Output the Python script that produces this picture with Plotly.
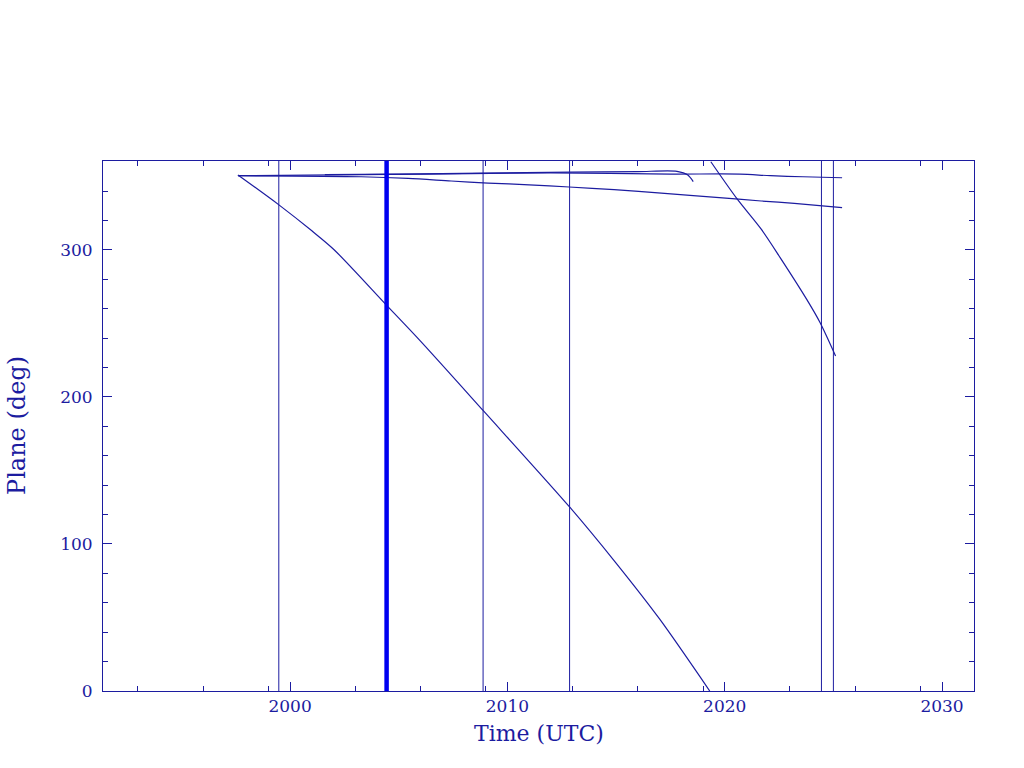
import plotly.graph_objects as go

# ---- data (decimal years, degrees) ----
event_years = [1999.48, 2008.88, 2012.86, 2024.45, 2025.00]
arrival_year = [2004.44]

# long descending track (wraps at 0 -> 360)
track_a_t = [1997.6, 1999.5, 2001.0, 2002.0, 2004.4, 2006.0, 2008.9, 2012.9, 2015.0, 2017.0, 2019.31]
track_a_p = [351.0, 330.5, 313.0, 300.5, 263.0, 238.0, 190.5, 124.5, 87.0, 49.0, 0.0]
track_b_t = [2019.36, 2020.56, 2021.67, 2022.55, 2023.78, 2024.39, 2025.10]
track_b_p = [360.0, 334.9, 314.3, 294.8, 266.2, 250.5, 227.9]

# slowly drifting lower track
drift_t = [1997.6, 2003.27, 2005.43, 2007.41, 2009.11, 2011.0, 2012.84, 2014.91, 2017.08, 2019.75, 2021.68, 2023.2, 2025.4]
drift_p = [350.5, 349.8, 348.7, 346.9, 345.5, 344.3, 342.8, 341.0, 338.7, 335.6, 333.3, 331.7, 328.8]

# nearly flat upper track
flat_t = [1997.6, 2004.6, 2008.3, 2012.0, 2017.5, 2020.7, 2022.1, 2023.6, 2025.4]
flat_p = [350.5, 351.4, 351.9, 352.4, 351.6, 351.6, 350.5, 349.8, 349.1]

# short hook track
hook_t = [2001.6, 2005.0, 2008.9, 2012.9, 2016.0, 2017.8, 2018.3, 2018.55]
hook_p = [351.2, 351.6, 352.3, 352.9, 353.3, 353.5, 351.0, 346.5]

x_major = [2000, 2010, 2020, 2030]
x_minor = [1993, 1996, 1999, 2003, 2006, 2009, 2013, 2016, 2019, 2023, 2026, 2029]
y_major = [0, 100, 200, 300]

x_title = "Time (UTC)"
y_title = "Plane (deg)"

C = "#1c1ca0"
THICK = "#0000f0"
FONT = "DejaVu Serif"

fig = go.Figure()
for t, p in [(track_a_t, track_a_p), (track_b_t, track_b_p), (drift_t, drift_p),
             (flat_t, flat_p), (hook_t, hook_p)]:
    fig.add_trace(go.Scatter(x=t, y=p, mode="lines",
                             line=dict(color=C, width=1.2, shape="spline", smoothing=0.8),
                             showlegend=False, hoverinfo="skip"))

for v in event_years:
    fig.add_vline(x=v, line_color=C, line_width=1)
for v in arrival_year:
    fig.add_vline(x=v, line_color=THICK, line_width=4.5)

axis_common = dict(showline=True, linecolor=C, linewidth=1, mirror="allticks",
                   ticks="inside", ticklen=9, tickcolor=C, tickwidth=1,
                   showgrid=False, zeroline=False, automargin=False,
                   tickfont=dict(family=FONT, size=17, color=C))

fig.update_layout(
    width=1024, height=768,
    margin=dict(l=103, r=50, t=161, b=77),
    paper_bgcolor="white", plot_bgcolor="white",
    xaxis=dict(range=[1991.39, 2031.47], tickmode="array", tickvals=x_major,
               minor=dict(tickmode="array", tickvals=x_minor, ticks="inside",
                          ticklen=5, tickcolor=C, tickwidth=1),
               **axis_common),
    yaxis=dict(range=[0, 360.5], tickmode="array", tickvals=y_major,
               ticklabelstandoff=6,
               minor=dict(dtick=20, tick0=0, ticks="inside", ticklen=5,
                          tickcolor=C, tickwidth=1),
               **axis_common),
    annotations=[
        dict(text=x_title, xref="paper", yref="paper", x=0.5, y=0,
             xanchor="center", yanchor="middle", yshift=-42, showarrow=False,
             font=dict(family=FONT, size=22, color=C)),
        dict(text=y_title, xref="paper", yref="paper", x=0, y=0.5,
             xanchor="center", yanchor="middle", xshift=-86, textangle=-90,
             showarrow=False, font=dict(family=FONT, size=24, color=C)),
    ],
)

fig.write_html("out.html", config={"displayModeBar": False},
               post_script="document.body.style.margin='0';")
